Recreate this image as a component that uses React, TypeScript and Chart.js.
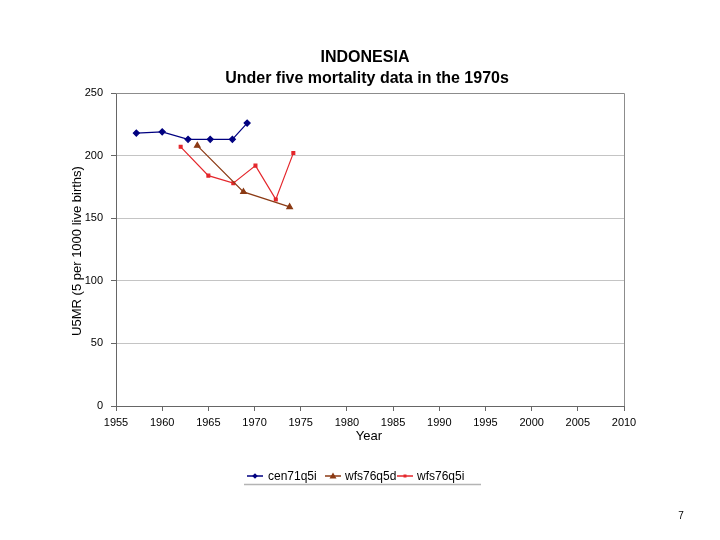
import React, { useEffect, useRef } from "react";
import { Chart, registerables } from "chart.js";

Chart.register(...registerables);

const titleLines = ["INDONESIA", "Under five mortality data in the 1970s"];
const xTitle = "Year";
const yTitle = "U5MR (5 per 1000 live births)";
const pageNumber = "7";

const cen71q5iYears = [1957.2, 1960.0, 1962.8, 1965.2, 1967.6, 1969.2];
const cen71q5iValues = [218, 219, 213, 213, 213, 226];

const wfs76q5dYears = [1963.8, 1968.8, 1973.8];
const wfs76q5dValues = [208, 171, 159];

const wfs76q5iYears = [1962.0, 1965.0, 1967.7, 1970.1, 1972.3, 1974.2];
const wfs76q5iValues = [207, 184, 178, 192, 165, 202];

const seriesNames = ["cen71q5i", "wfs76q5d", "wfs76q5i"];
const seriesColors = ["#000080", "#8B3A14", "#E4262B"];
const seriesMarkers = ["rectRot", "triangle", "rect"];
const seriesRadius = [3, 3.2, 2];

const xMin = 1955, xMax = 2010, xStep = 5;
const yMin = 0, yMax = 250, yStep = 50;

const FONT = "'Liberation Sans', Arial, sans-serif";

function pts(xs: number[], ys: number[]) {
  return xs.map((x, i) => ({ x, y: ys[i] }));
}

const decorPlugin = {
  id: "decor",
  afterDraw(chart: any) {
    const ctx = chart.ctx;
    const a = chart.chartArea;
    ctx.save();
    // plot border top/right
    ctx.strokeStyle = "#8c8c8c";
    ctx.lineWidth = 1;
    ctx.beginPath();
    ctx.moveTo(a.left, a.top + 0.5);
    ctx.lineTo(a.right + 0.5, a.top + 0.5);
    ctx.lineTo(a.right + 0.5, a.bottom);
    ctx.stroke();
    // titles
    ctx.fillStyle = "#000";
    ctx.textAlign = "center";
    ctx.textBaseline = "middle";
    ctx.font = `bold 16px ${FONT}`;
    ctx.fillText(titleLines[0], 365, 58);
    ctx.fillText(titleLines[1], 367, 79);
    // axis titles
    ctx.font = `13px ${FONT}`;
    ctx.fillText(xTitle, 369, 436);
    ctx.save();
    ctx.translate(77, 251);
    ctx.rotate(-Math.PI / 2);
    ctx.fillText(yTitle, 0, 0);
    ctx.restore();
    // legend
    const legendY = 476;
    const items = [
      { lx: 247, tx: 268 },
      { lx: 325, tx: 345 },
      { lx: 397, tx: 417 },
    ];
    ctx.font = `12px ${FONT}`;
    ctx.textAlign = "left";
    items.forEach((it, i) => {
      ctx.strokeStyle = seriesColors[i];
      ctx.lineWidth = 1.5;
      ctx.beginPath();
      ctx.moveTo(it.lx, legendY);
      ctx.lineTo(it.lx + 16, legendY);
      ctx.stroke();
      ctx.fillStyle = seriesColors[i];
      const cx = it.lx + 8;
      ctx.beginPath();
      if (i === 0) {
        ctx.moveTo(cx, legendY - 2.8);
        ctx.lineTo(cx + 2.8, legendY);
        ctx.lineTo(cx, legendY + 2.8);
        ctx.lineTo(cx - 2.8, legendY);
      } else if (i === 1) {
        ctx.moveTo(cx, legendY - 3.5);
        ctx.lineTo(cx + 3.5, legendY + 2.5);
        ctx.lineTo(cx - 3.5, legendY + 2.5);
      } else {
        ctx.rect(cx - 1.5, legendY - 1.5, 3, 3);
      }
      ctx.closePath();
      ctx.fill();
      ctx.fillStyle = "#000";
      ctx.fillText(seriesNames[i], it.tx, legendY + 0.5);
    });
    ctx.strokeStyle = "#b4b4b4";
    ctx.lineWidth = 1.5;
    ctx.beginPath();
    ctx.moveTo(244, 484.5);
    ctx.lineTo(481, 484.5);
    ctx.stroke();
    // page number
    ctx.font = `10px ${FONT}`;
    ctx.textAlign = "center";
    ctx.fillStyle = "#000";
    ctx.fillText(pageNumber, 681, 516);
    ctx.restore();
  },
};

export default function App() {
  const ref = useRef<HTMLCanvasElement>(null);
  useEffect(() => {
    if (!ref.current) return;
    const datasets = [
      pts(cen71q5iYears, cen71q5iValues),
      pts(wfs76q5dYears, wfs76q5dValues),
      pts(wfs76q5iYears, wfs76q5iValues),
    ].map((data, i) => ({
      label: seriesNames[i],
      data,
      borderColor: seriesColors[i],
      backgroundColor: seriesColors[i],
      pointBackgroundColor: seriesColors[i],
      pointBorderColor: seriesColors[i],
      pointStyle: seriesMarkers[i] as any,
      pointRadius: seriesRadius[i],
      borderWidth: 1.2,
      tension: 0,
      showLine: true,
    }));
    const chart = new Chart(ref.current, {
      type: "scatter",
      data: { datasets },
      plugins: [decorPlugin],
      options: {
        animation: false,
        responsive: false,
        layout: { padding: { left: 0, top: 93, right: 96, bottom: 0 } },
        plugins: {
          legend: { display: false },
          title: { display: false },
          tooltip: { enabled: false },
        },
        scales: {
          x: {
            type: "linear",
            min: xMin,
            max: xMax,
            afterFit: (s: any) => { s.height = 134; },
            ticks: {
              stepSize: xStep,
              color: "#000",
              font: { family: FONT, size: 11 },
              padding: 5,
              maxRotation: 0,
              callback: (v: any) => String(v),
            },
            grid: { drawOnChartArea: false, tickLength: 5, tickColor: "#666" },
            border: { color: "#666", width: 1 },
          },
          y: {
            min: yMin,
            max: yMax,
            afterFit: (s: any) => { s.width = 116; },
            ticks: {
              stepSize: yStep,
              color: "#000",
              font: { family: FONT, size: 11 },
              padding: 8,
            },
            grid: { color: "#c4c4c4", tickLength: 5, tickColor: "#666" },
            border: { color: "#666", width: 1 },
          },
        },
      },
    });
    return () => chart.destroy();
  }, []);
  return (
    <div style={{ position: "absolute", left: 0, top: 0, width: 720, height: 540, background: "#fff" }}>
      <canvas ref={ref} width={720} height={540} />
    </div>
  );
}
